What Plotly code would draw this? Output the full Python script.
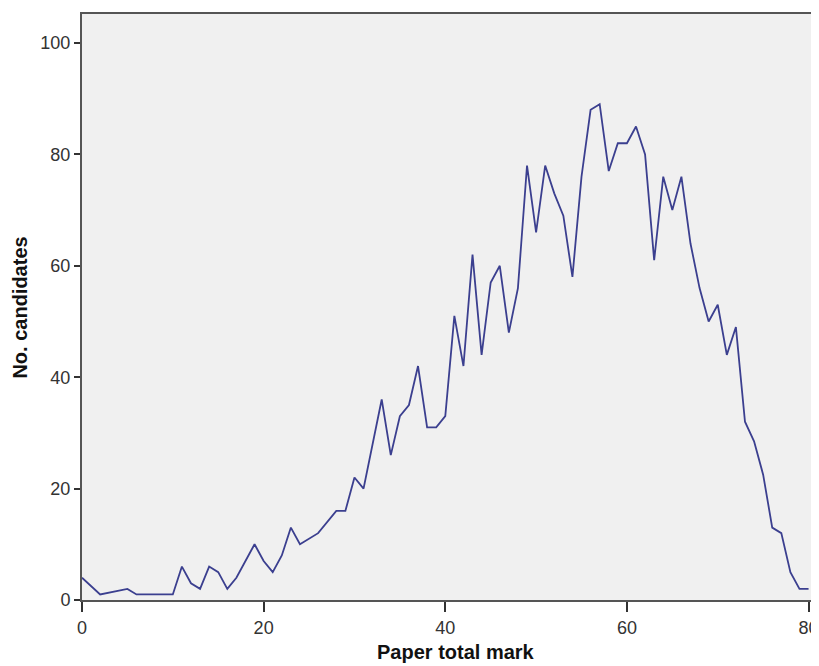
import plotly.graph_objects as go

marks = [0, 2, 5, 6, 10, 11, 12, 13, 14, 15, 16, 17, 19, 20, 21, 22, 23, 24, 26, 28, 29, 30, 31,
         33, 34, 35, 36, 37, 38, 39, 40, 41, 42, 43, 44, 45, 46, 47, 48, 49, 50, 51, 52, 53, 54,
         55, 56, 57, 58, 59, 60, 61, 62, 63, 64, 65, 66, 67, 68, 69, 70, 71, 72, 73, 74, 75, 76,
         77, 78, 79, 80]
candidates = [4, 1, 2, 1, 1, 6, 3, 2, 6, 5, 2, 4, 10, 7, 5, 8, 13, 10, 12, 16, 16, 22, 20,
              36, 26, 33, 35, 42, 31, 31, 33, 51, 42, 62, 44, 57, 60, 48, 56, 78, 66, 78, 73, 69, 58,
              76, 88, 89, 77, 82, 82, 85, 80, 61, 76, 70, 76, 64, 56, 50, 53, 44, 49, 32, 28.5, 22.5, 13,
              12, 5, 2, 2]

x_ticks = [0, 20, 40, 60, 80]
y_ticks = [0, 20, 40, 60, 80, 100]
x_title = "Paper total mark"
y_title = "No. candidates"

fig = go.Figure()
fig.add_trace(go.Scatter(x=marks, y=candidates, mode="lines",
                         line=dict(color="#3B3F8F", width=1.8), hoverinfo="x+y"))

axis_font = dict(family="Liberation Sans, Arial, sans-serif", size=18, color="#333333")
title_font = dict(family="Liberation Sans, Arial, sans-serif", size=20, color="#111111")

# page body has an 8px default margin, so the figure is sized to 811x658
fig.update_layout(
    width=811, height=658,
    margin=dict(l=74, r=0, t=6, b=66),
    paper_bgcolor="white",
    plot_bgcolor="#F0F0F0",
    showlegend=False,
    xaxis=dict(range=[0, 81.15], tickvals=x_ticks, ticktext=[str(v) for v in x_ticks],
               showgrid=False, zeroline=False, showline=True, linecolor="#555555", linewidth=2,
               mirror=True, ticks="outside", ticklen=10, tickwidth=2, tickcolor="#333333",
               tickfont=axis_font, automargin=False, ticklabeloverflow="allow"),
    yaxis=dict(range=[0, 105.2], tickvals=y_ticks, ticktext=[str(v) for v in y_ticks],
               showgrid=False, zeroline=False, showline=True, linecolor="#555555", linewidth=2,
               ticks="outside", ticklen=6, tickwidth=2, tickcolor="#333333",
               tickfont=axis_font, automargin=False),
    annotations=[
        dict(text="<b>" + x_title + "</b>", xref="paper", yref="paper", x=0.508, y=-0.1109,
             xanchor="center", yanchor="bottom", showarrow=False, font=title_font),
        dict(text="<b>" + y_title + "</b>", xref="paper", yref="paper", x=-0.0841, y=0.499,
             xanchor="center", yanchor="middle", textangle=-90, showarrow=False, font=title_font),
    ],
)

fig.write_html("out.html")
